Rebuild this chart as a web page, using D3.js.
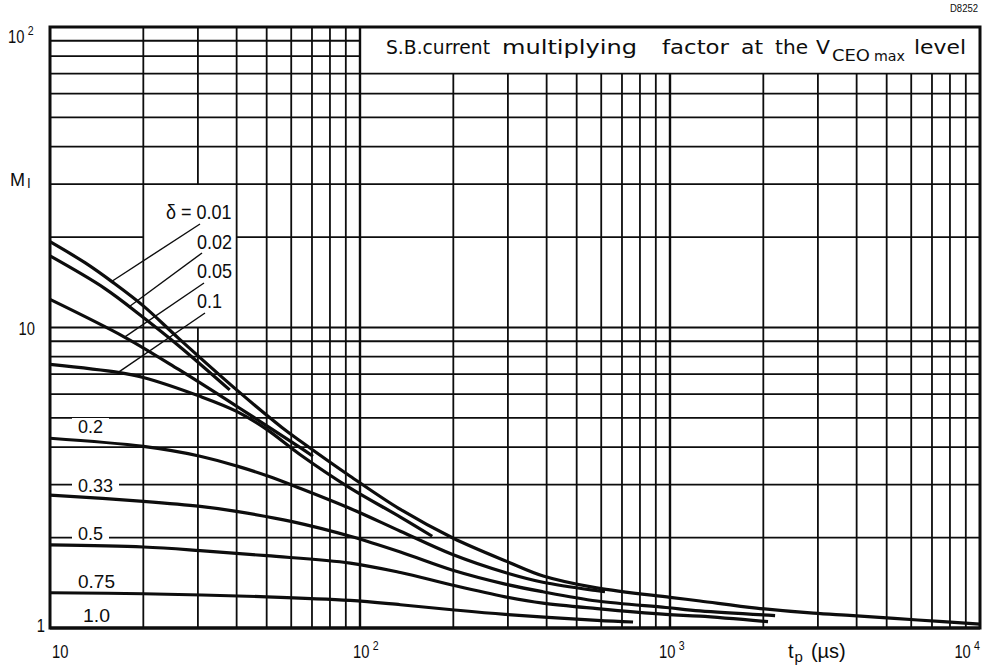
<!DOCTYPE html>
<html><head><meta charset="utf-8">
<script src="https://cdn.jsdelivr.net/npm/d3@7"></script>
<style>
html,body{margin:0;padding:0;background:#fff;}
svg{display:block;}
text{font-family:"Liberation Sans", Arial, sans-serif; fill:#0d0d0d;}
</style></head><body>
<svg id="chart" width="985" height="665"></svg>
<script>
// ---------------- DATA ----------------
const xTickValues = [10, 100, 1000, 10000];
const xTickBase   = ["10", "10", "10", "10"];
const xTickExp    = ["", "2", "3", "4"];
const yTickValues = [1, 10, 100];
const yTickBase   = ["1", "10", "10"];
const yTickExp    = ["", "", "2"];

const dutyLabels = ["δ = 0.01", "0.02", "0.05", "0.1", "0.2", "0.33", "0.5", "0.75", "1.0"];

// tp (µs) and M_I values for each duty cycle δ
const tp001 = [10, 13, 16, 20, 26, 40, 56, 64, 93, 135, 200, 300, 390, 580, 1000, 1250, 1900, 2900, 3900, 6300, 10000];
const mi001 = [19.3, 16.4, 14.1, 11.8, 9.2, 6.2, 4.65, 4.2, 3.2, 2.48, 1.99, 1.66, 1.49, 1.36, 1.265, 1.23, 1.165, 1.12, 1.10, 1.063, 1.03];

const tp002 = [10, 15, 20, 26, 38];
const mi002 = [17.3, 13.5, 10.8, 8.7, 6.2];

const tp005 = [10, 17.5, 26, 40, 64, 70.5];
const mi005 = [12.4, 9.26, 7.25, 5.47, 3.99, 3.73];

const tp01 = [10, 16.6, 20, 30.5, 40, 50, 64, 93, 135, 171];
const mi01 = [7.54, 7.09, 6.82, 5.90, 5.26, 4.58, 3.78, 2.92, 2.34, 2.02];

const tp02 = [10, 20, 30.5, 40.4, 50.7, 64, 93, 135, 198, 294, 389, 582, 617];
const mi02 = [4.28, 4.02, 3.73, 3.45, 3.20, 2.92, 2.50, 2.10, 1.76, 1.53, 1.42, 1.33, 1.32];

const tp033 = [10, 20, 30.5, 40.4, 60.4, 93, 135, 198, 294, 389, 582, 970, 1250, 2183];
const mi033 = [2.77, 2.64, 2.54, 2.44, 2.26, 2.02, 1.79, 1.56, 1.40, 1.32, 1.23, 1.17, 1.14, 1.10];

const tp05 = [10, 20, 30.5, 50, 93, 135, 198, 294, 389, 582, 970, 1250, 2071];
const mi05 = [1.89, 1.86, 1.81, 1.74, 1.645, 1.53, 1.39, 1.27, 1.21, 1.16, 1.11, 1.095, 1.05];

const tp075 = [10, 20, 50, 93, 135, 198, 294, 582, 760];
const mi075 = [1.31, 1.30, 1.27, 1.235, 1.195, 1.15, 1.11, 1.06, 1.047];

const tp10 = [10, 10000];
const mi10 = [1, 1];

const seriesTp = [tp001, tp002, tp005, tp01, tp02, tp033, tp05, tp075, tp10];
const seriesMi = [mi001, mi002, mi005, mi01, mi02, mi033, mi05, mi075, mi10];

// ---------------- CHART ----------------
const svg = d3.select("#chart");
const x = d3.scaleLog().domain([10, 10000]).range([50, 980]);
const y = d3.scaleLog().domain([1, 100]).range([628, 27]);
const ink = "#0d0d0d";

// grid values
const vVals = [];
[10, 100, 1000].forEach(d => { for (let k = 1; k < 10; k++) { const v = k * d; if (v > 10) vVals.push(v); } });
const hVals = [];
[1, 10].forEach(d => { for (let k = 1; k < 10; k++) { const v = k * d; if (v > 1) hVals.push(v); } });

function vSegs(v) {
  if (v === 30) return [[100, 30], [10, 1]];
  if (v > 100) return [[70, 1]];
  return [[100, 1]];
}
function hSegs(m) {
  if (m === 80 || m === 90) return [[10, 100]];
  if (m === 20) return [[10, 20], [40, 10000]];
  return [[10, 10000]];
}
const isDecade = v => Math.abs(Math.log10(v) - Math.round(Math.log10(v))) < 1e-9;

const grid = svg.append("g");
vVals.forEach(v => vSegs(v).forEach(s => {
  grid.append("line").attr("x1", x(v)).attr("x2", x(v)).attr("y1", y(s[0])).attr("y2", y(s[1]))
    .attr("stroke", ink).attr("stroke-width", isDecade(v) ? 2.4 : 1.8);
}));
hVals.forEach(m => hSegs(m).forEach(s => {
  grid.append("line").attr("y1", y(m)).attr("y2", y(m)).attr("x1", x(s[0])).attr("x2", x(s[1]))
    .attr("stroke", ink).attr("stroke-width", isDecade(m) ? 2.2 : 1.8);
}));

// frame
svg.append("rect").attr("x", x(10)).attr("y", y(100)).attr("width", x(10000) - x(10)).attr("height", y(1) - y(100))
  .attr("fill", "none").attr("stroke", ink).attr("stroke-width", 3);

// curves
const line = d3.line().x(d => x(d[0])).y(d => y(d[1])).curve(d3.curveCatmullRom.alpha(0.5));
seriesTp.forEach((tps, i) => {
  const pts = tps.map((t, j) => [t, seriesMi[i][j]]);
  svg.append("path").attr("d", line(pts)).attr("fill", "none").attr("stroke", ink)
    .attr("stroke-width", 3.2).attr("stroke-linecap", "butt");
});

// interpolate M on a series at given tp (log-log)
function miAt(i, t) {
  const tps = seriesTp[i], ms = seriesMi[i];
  for (let j = 0; j < tps.length - 1; j++) {
    if (t >= tps[j] && t <= tps[j + 1]) {
      const f = (Math.log(t) - Math.log(tps[j])) / (Math.log(tps[j + 1]) - Math.log(tps[j]));
      return Math.exp(Math.log(ms[j]) + f * (Math.log(ms[j + 1]) - Math.log(ms[j])));
    }
  }
  return ms[ms.length - 1];
}

// text helper with horizontal condensing
function stext(px, py, fs, anchor, sx) {
  return svg.append("g").attr("transform", `translate(${px},${py}) scale(${sx},1)`)
    .append("text").attr("font-size", fs).attr("text-anchor", anchor || "start");
}

// upper labels with leaders
const upper = [
  {tx: 166, ty: 219, lx: 200, ly: 224, t: 15.8},
  {tx: 197, ty: 249, lx: 202, ly: 253, t: 18},
  {tx: 197, ty: 278, lx: 204, ly: 283, t: 17.4},
  {tx: 197, ty: 308, lx: 205, ly: 313, t: 16.6}
];
upper.forEach((u, i) => {
  svg.append("line").attr("x1", u.lx).attr("y1", u.ly).attr("x2", x(u.t)).attr("y2", y(miAt(i, u.t)))
    .attr("stroke", ink).attr("stroke-width", 1.4);
  stext(u.tx, u.ty, 20, "start", 0.9).text(dutyLabels[i]);
});

// lower labels (white background breaks grid lines)
const lower = [
  {tx: 78, ty: 433, w: 25},
  {tx: 78, ty: 492, w: 35},
  {tx: 78, ty: 540, w: 25},
  {tx: 78, ty: 588, w: 37},
  {tx: 83, ty: 622, w: 27}
];
lower.forEach((l, k) => {
  const i = k + 4;
  if (k < 3) {
    svg.append("rect").attr("x", l.tx - 6).attr("y", l.ty - 15).attr("width", l.w + 12).attr("height", 17).attr("fill", "#fff");
  }
  svg.append("text").attr("x", l.tx).attr("y", l.ty).attr("font-size", 18)
    .attr("textLength", l.w).attr("lengthAdjust", "spacingAndGlyphs").text(dutyLabels[i]);
});

// power-of-ten label helper
function powLabel(px, py, base, exp, anchor, fs) {
  const t = stext(px, py, fs, anchor, 0.82);
  t.append("tspan").text(base);
  if (exp) t.append("tspan").attr("font-size", fs * 0.72).attr("dx", 4).attr("dy", -8).text(exp);
  return t;
}

// x tick labels
const xOff = [{dx: 2, a: "start"}, {dx: -7, a: "start"}, {dx: -11, a: "start"}, {dx: 0, a: "end"}];
xTickValues.forEach((v, i) => powLabel(x(v) + xOff[i].dx, 658, xTickBase[i], xTickExp[i], xOff[i].a, 18));

// y tick labels
const yPos = [{px: 45, dy: 4, a: "end"}, {px: 35, dy: 7, a: "end"}, {px: 8, dy: 16, a: "start"}];
yTickValues.forEach((v, i) => powLabel(yPos[i].px, y(v) + yPos[i].dy, yTickBase[i], yTickExp[i], yPos[i].a, 18));

// axis titles
const mt = stext(10, 186, 19, "start", 0.95);
mt.append("tspan").text("M");
mt.append("tspan").attr("font-size", 14).attr("dx", 2).attr("dy", 2).text("I");

const tt = stext(788, 658, 20, "start", 1);
tt.append("tspan").text("t");
tt.append("tspan").attr("font-size", 15).attr("dx", 1).attr("dy", 4).text("p");
tt.append("tspan").attr("dx", 8).attr("dy", -4).text("(µs)");

// title in box
const titleY = 54;
const words = [
  {s: "S.B.current", x: 386, w: 104},
  {s: "multiplying", x: 502, w: 135},
  {s: "factor", x: 662, w: 67},
  {s: "at", x: 741, w: 22},
  {s: "the", x: 775, w: 33},
  {s: "V", x: 816, w: 14},
  {s: "level", x: 914, w: 52}
];
words.forEach(wd => svg.append("text").attr("x", wd.x).attr("y", titleY).attr("font-size", 20)
  .style("font-family", "'DejaVu Sans', 'Liberation Sans', sans-serif")
  .attr("textLength", wd.w).attr("lengthAdjust", "spacingAndGlyphs").text(wd.s));
svg.append("text").attr("x", 832).attr("y", titleY + 7).attr("font-size", 16)
  .style("font-family", "'DejaVu Sans', 'Liberation Sans', sans-serif")
  .attr("textLength", 38).attr("lengthAdjust", "spacingAndGlyphs").text("CEO");
svg.append("text").attr("x", 874).attr("y", titleY + 7).attr("font-size", 14)
  .style("font-family", "'DejaVu Sans', 'Liberation Sans', sans-serif")
  .attr("textLength", 31).attr("lengthAdjust", "spacingAndGlyphs").text("max");

svg.append("text").attr("x", 950).attr("y", 12).attr("font-size", 10)
  .attr("textLength", 28).attr("lengthAdjust", "spacingAndGlyphs").text("D8252");
</script>
</body></html>
